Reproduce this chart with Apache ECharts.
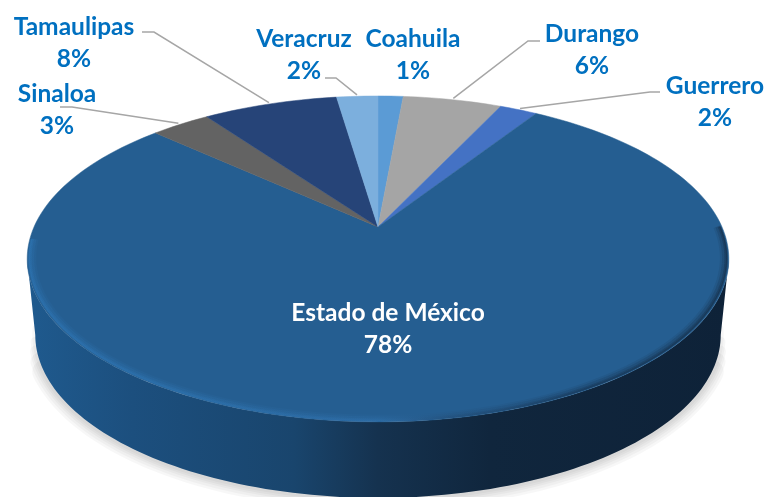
<!DOCTYPE html>
<html>
  <head>
    <meta charset="utf-8" />
    <title>Estado de México</title>
    <script src="https://cdn.jsdelivr.net/npm/echarts@6/dist/echarts.min.js"></script>
    <style>
      html, body { margin: 0; padding: 0; background: #fff; }
    </style>
  </head>
  <body>
    <div id="main" style="width: 766px;height:497px;"></div>
    <script type="text/javascript">
      // data, clockwise from the top of the pie
      var names = ['Coahuila', 'Durango', 'Guerrero', 'Estado de México', 'Sinaloa', 'Tamaulipas', 'Veracruz'];
      var values = [1.4, 5.5, 2.1, 77.9, 3.3, 7.5, 2.3];
      var colors = ['#5b9bd5', '#a5a5a5', '#4472c4', '#255e91', '#636363', '#264478', '#7cafdd'];

      // label centre [x, y], middle of the two text lines
      var labelPos = [[413, 55], [592, 50], [715, 102], [388, 329], [57, 110], [74, 43], [304, 55]];
      // leader line: text end and elbow, null = no leader
      var leaders = [
        null,
        [[540, 41], [528, 41]],
        [[660, 92], [650, 92]],
        null,
        [[60, 107], [72, 107]],
        [[142, 32], [154, 32]],
        [[325, 78], [336, 78]]
      ];

      var total = values.reduce(function (a, b) { return a + b; }, 0);
      var FONT = 'Lato';

      // perspective disc: apex of the slices sits above the middle of the ellipse
      var cx = 378, cy = 227, bx = 344, ay = 156.7, k = 0.196;
      var depth = 76, shrink = 0.977;

      function project(theta, r) {
        var u = Math.sin(theta) * r, v = Math.cos(theta) * r;
        var d = 1 + k * v;
        return [cx + bx * u / d, cy - ay * v / d];
      }
      function lower(p) {
        return [cx + (p[0] - cx) * shrink, p[1] + depth];
      }
      function angleAt(i) {
        var s = 0;
        for (var j = 0; j < i; j++) s += values[j];
        return s / total * Math.PI * 2;
      }
      function arc(a0, a1, n, r) {
        var pts = [];
        for (var i = 0; i <= n; i++) pts.push(project(a0 + (a1 - a0) * i / n, r || 1));
        return pts;
      }

      var RIGHT = 101.3 * Math.PI / 180, LEFT = 258.7 * Math.PI / 180;

      // grey glow under the wall, faint strokes that get shorter as they get wider
      function renderShadow(params, api) {
        return {
          type: 'group',
          children: [[24, 0.22], [19, 0.16], [14, 0.1], [10, 0.04], [6, -0.04]].map(function (b) {
            return {
              type: 'polyline',
              shape: { points: arc(RIGHT + b[1], LEFT - b[1], 120).map(lower) },
              style: { fill: null, stroke: 'rgba(0,0,0,0.03)', lineWidth: b[0], lineCap: 'round' }
            };
          })
        };
      }

      function renderWall(params, api) {
        var top = arc(RIGHT, LEFT, 120);
        var bottom = top.map(lower).reverse();
        return {
          type: 'polygon',
          shape: { points: top.concat(bottom) },
          style: {
            fill: {
              type: 'linear', x: 0, y: 0, x2: 1, y2: 0,
              colorStops: [
                { offset: 0, color: '#1f5a8e' },
                { offset: 0.15, color: '#1c4f7e' },
                { offset: 0.38, color: '#19456d' },
                { offset: 0.5, color: '#15324f' },
                { offset: 0.66, color: '#10263d' },
                { offset: 1, color: '#0e2238' }
              ]
            }
          }
        };
      }

      function renderSlice(params, api) {
        var i = params.dataIndex;
        var a0 = angleAt(i), a1 = angleAt(i + 1);
        var n = Math.max(4, Math.round((a1 - a0) * 40));
        return {
          type: 'polygon',
          shape: { points: [[cx, cy]].concat(arc(a0, a1, n)) },
          style: { fill: colors[i], stroke: colors[i], lineWidth: 0.5 }
        };
      }

      // soft bevel along the front edge of the top face, several wide faint strokes
      function renderRim(params, api) {
        var grad = {
          type: 'linear', x: 0, y: 0, x2: 1, y2: 0,
          colorStops: [
            { offset: 0, color: '#2e78b8' },
            { offset: 0.5, color: '#2f70ab' },
            { offset: 0.6, color: '#234f7a' },
            { offset: 0.8, color: '#14304d' },
            { offset: 1, color: '#12263c' }
          ]
        };
        var a0 = RIGHT - 0.2, a1 = LEFT + 0.12;
        var bands = [[0.985, 7, 0.12], [0.988, 5, 0.2], [0.992, 3, 0.3], [0.995, 2, 0.35]];
        return {
          type: 'group',
          children: bands.map(function (b) {
            return {
              type: 'polyline',
              shape: { points: arc(a0, a1, 120, b[0]) },
              style: { fill: null, stroke: grad, lineWidth: b[1], opacity: b[2] }
            };
          })
        };
      }

      function renderLabel(params, api) {
        var i = params.dataIndex;
        var inside = i === 3;
        var kids = [];
        if (leaders[i]) {
          var mid = (angleAt(i) + angleAt(i + 1)) / 2;
          kids.push({
            type: 'polyline',
            shape: { points: [leaders[i][0], leaders[i][1], project(mid, 1.012)] },
            style: { fill: null, stroke: '#a6a6a6', lineWidth: 1.5 }
          });
        }
        kids.push({
          type: 'text',
          x: labelPos[i][0],
          y: labelPos[i][1],
          style: {
            text: names[i] + '\n' + Math.round(api.value(0)) + '%',
            fill: inside ? '#ffffff' : '#0070c0',
            font: 'bold 24.5px ' + FONT,
            align: 'center',
            verticalAlign: 'middle',
            lineHeight: 32
          }
        });
        return { type: 'group', children: kids };
      }

      var myChart = echarts.init(document.getElementById('main'));
      myChart.setOption({
        animation: false,
        backgroundColor: '#ffffff',
        series: [
          { type: 'custom', coordinateSystem: 'none', silent: true, clip: false, z: 1, renderItem: renderShadow, data: [0] },
          { type: 'custom', coordinateSystem: 'none', silent: true, clip: false, z: 2, renderItem: renderWall, data: [0] },
          { type: 'custom', coordinateSystem: 'none', silent: true, clip: false, z: 3, renderItem: renderSlice, data: values },
          { type: 'custom', coordinateSystem: 'none', silent: true, clip: false, z: 4, renderItem: renderRim, data: [0] },
          { type: 'custom', coordinateSystem: 'none', silent: true, clip: false, z: 5, renderItem: renderLabel, data: values }
        ]
      });
    </script>
  </body>
</html>
